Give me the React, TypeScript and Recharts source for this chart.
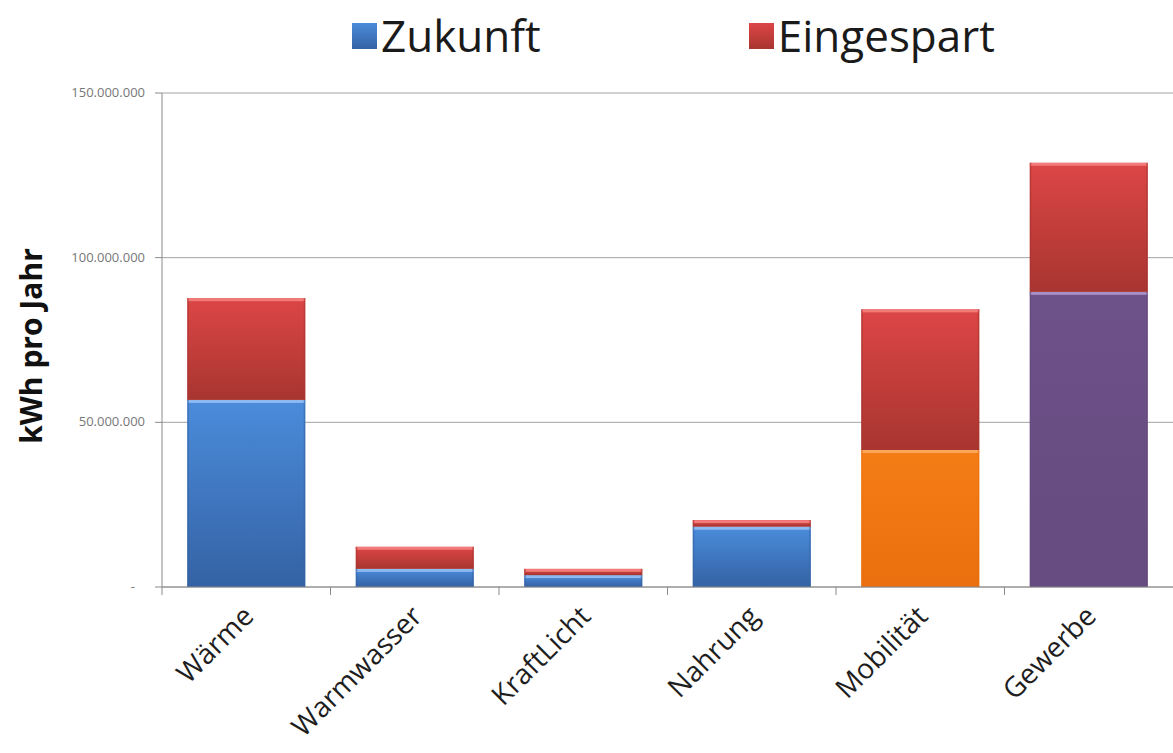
import { Bar, BarChart, CartesianGrid, Cell, Legend, XAxis, YAxis } from 'recharts';

const categories = ['Wärme', 'Warmwasser', 'KraftLicht', 'Nahrung', 'Mobilität', 'Gewerbe'];
const zukunft = [56800000, 5500000, 3600000, 18300000, 41600000, 89600000];
const eingespart = [30900000, 6700000, 1900000, 2000000, 42700000, 39200000];
const zukunftTone = ['blue', 'blue', 'blue', 'blue', 'orange', 'purple'];
const yTicks = [0, 50000000, 100000000, 150000000];

const data = categories.map((name, i) => ({
  name,
  zukunft: zukunft[i],
  eingespart: eingespart[i],
  tone: zukunftTone[i]
}));

// gradient top/bottom + highlight strip per tone
const tones: Record<string, { top: string; bottom: string; light: string }> = {
  blue: { top: '#4b8cdb', bottom: '#3462a4', light: '#8dbaf0' },
  red: { top: '#dc4646', bottom: '#a83530', light: '#f27a78' },
  orange: { top: '#f57d16', bottom: '#ea6f0e', light: '#fca65a' },
  purple: { top: '#6d5189', bottom: '#654b7f', light: '#a78fc4' }
};

const legendItems = [
  { key: 'zukunft', label: 'Zukunft', tone: 'blue' },
  { key: 'eingespart', label: 'Eingespart', tone: 'red' }
];

const font = '"Open Sans", "DejaVu Sans", sans-serif';

const fmt = (v: number) => String(v).replace(/\B(?=(\d{3})+(?!\d))/g, '.');

const SegmentShape = (props: any) => {
  const { x, y, width, height, tone } = props;
  if (!height || height <= 0) return null;
  const t = tones[tone] ?? tones.blue;
  return (
    <g>
      <rect x={x} y={y} width={width} height={height} fill={`url(#grad-${tone})`} />
      <rect x={x} y={y} width={width} height={Math.min(3, height)} fill={t.light} />
      <rect x={x} y={y} width={1.5} height={height} fill={t.bottom} opacity={0.6} />
      <rect x={x + width - 1.5} y={y} width={1.5} height={height} fill={t.bottom} opacity={0.6} />
    </g>
  );
};

const YTick = ({ x, y, payload }: any) => (
  <text
    x={payload.value === 0 ? x - 10 : x}
    y={y}
    dy={4}
    textAnchor="end"
    fontSize={13}
    fill="#777"
    fontFamily={font}
  >
    {payload.value === 0 ? '-' : fmt(payload.value)}
  </text>
);

const XTick = ({ x, y, payload }: any) => {
  const half = payload.offset ?? 84;
  const axisY = 587;
  const lx = x + 9;
  const ly = axisY + 31;
  return (
    <g>
      <line x1={x - half} x2={x - half} y1={axisY} y2={axisY + 8} stroke="#8a8a8a" />
      <text
        x={lx}
        y={ly}
        textAnchor="end"
        fontSize={28}
        fill="#1e1e1e"
        fontFamily={font}
        transform={`rotate(-45, ${lx}, ${ly})`}
      >
        {payload.value}
      </text>
    </g>
  );
};

const renderLegend = () => (
  <div style={{ display: 'flex', alignItems: 'center', paddingLeft: 352, height: 70, fontFamily: font }}>
    {legendItems.map((item, i) => (
      <div key={item.key} style={{ display: 'flex', alignItems: 'center', marginRight: i === 0 ? 208 : 0 }}>
        <span
          style={{
            display: 'inline-block',
            width: 25,
            height: 26,
            marginRight: 4,
            marginTop: 2,
            background: `linear-gradient(${tones[item.tone].top}, ${tones[item.tone].bottom})`
          }}
        />
        <span style={{ fontSize: 44, color: '#1a1a1a', lineHeight: '66px' }}>{item.label}</span>
      </div>
    ))}
  </div>
);

const AxisTitle = ({ viewBox }: any) => {
  const cy = viewBox ? viewBox.y + viewBox.height / 2 + 6 : 346;
  return (
    <text
      x={30}
      y={cy}
      transform={`rotate(-90, 30, ${cy})`}
      textAnchor="middle"
      dominantBaseline="central"
      fontSize={30}
      fontWeight="bold"
      fill="#111"
      fontFamily={font}
    >
      kWh pro Jahr
    </text>
  );
};

export default function App() {
  return (
    <div style={{ position: 'absolute', left: 0, top: 0, width: 1173, height: 753, background: '#fff' }}>
      <BarChart
        width={1173}
        height={753}
        data={data}
        margin={{ top: 23, right: 0, bottom: 0, left: 0 }}
        barCategoryGap="15%"
      >
        <defs>
          {Object.entries(tones).map(([k, t]) => (
            <linearGradient key={k} id={`grad-${k}`} x1="0" y1="0" x2="0" y2="1">
              <stop offset="0%" stopColor={t.top} />
              <stop offset="100%" stopColor={t.bottom} />
            </linearGradient>
          ))}
        </defs>
        <Legend
          verticalAlign="top"
          content={renderLegend}
          wrapperStyle={{ top: 0, left: 0, width: 1173, height: 70 }}
        />
        <CartesianGrid vertical={false} stroke="#a3a3a3" />
        <XAxis
          dataKey="name"
          interval={0}
          height={166}
          axisLine={{ stroke: '#8a8a8a' }}
          tickLine={false}
          tick={<XTick />}
        />
        <YAxis
          width={162}
          domain={[0, 150000000]}
          ticks={yTicks}
          tickSize={7}
          tickMargin={10}
          axisLine={{ stroke: '#8a8a8a' }}
          tickLine={{ stroke: '#8a8a8a' }}
          tick={<YTick />}
          label={<AxisTitle />}
        />
        <Bar dataKey="zukunft" name="Zukunft" stackId="a" isAnimationActive={false} shape={SegmentShape}>
          {data.map((d) => (
            <Cell key={d.name} tone={d.tone} />
          ))}
        </Bar>
        <Bar
          dataKey="eingespart"
          name="Eingespart"
          stackId="a"
          isAnimationActive={false}
          shape={(p: any) => <SegmentShape {...p} tone="red" />}
        />
      </BarChart>
    </div>
  );
}
